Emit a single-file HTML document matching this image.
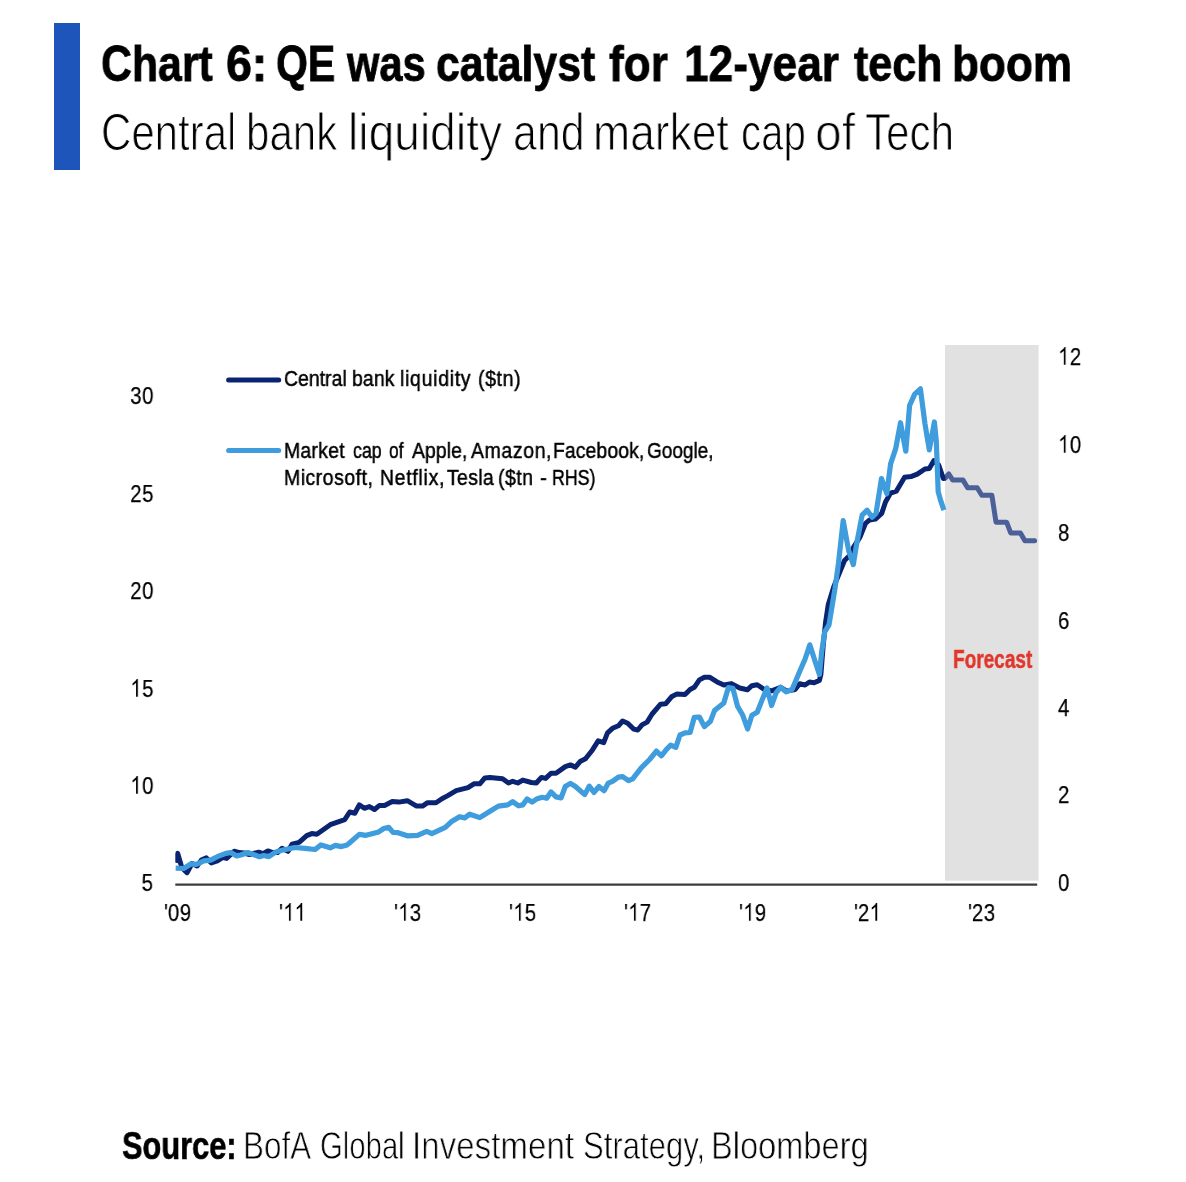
<!DOCTYPE html>
<html><head><meta charset="utf-8"><title>Chart 6</title>
<style>
html,body{margin:0;padding:0;background:#fff;}
body{width:1186px;height:1182px;position:relative;overflow:hidden;font-family:"Liberation Sans",sans-serif;color:#000;}
.t{position:absolute;white-space:nowrap;line-height:1;transform-origin:0 0;will-change:transform;}
.r{transform-origin:100% 0;}
.c{transform-origin:50% 0;}
#chart{position:absolute;left:0;top:0;}
.ax{font-size:24.8px;transform:scaleX(0.82);letter-spacing:0.75px;-webkit-text-stroke:0.25px #000;}
.one{width:0.556em;height:0.716em;margin-right:0.75px;vertical-align:baseline;fill:#000;}
</style></head><body>
<div style="position:absolute;left:54.4px;top:23px;width:25.4px;height:146.5px;background:#1d55ba"></div>
<svg id="chart" width="1186" height="1182" viewBox="0 0 1186 1182">
<defs><clipPath id="plot"><rect x="175.3" y="340" width="865" height="545"/></clipPath></defs>
<rect x="945" y="345" width="93.6" height="535.7" fill="#e1e1e1"/>
<line x1="175.3" y1="884.6" x2="1037.2" y2="884.6" stroke="#3c3c3c" stroke-width="2.4"/>
<g clip-path="url(#plot)">
<polyline fill="none" stroke="#4b5f99" stroke-width="5" stroke-linejoin="round" stroke-linecap="round" points="945.2,478.1 948.8,474.0 952.8,480.1 963.0,480.1 967.6,487.7 977.2,487.7 981.8,495.3 991.9,495.3 996.0,522.2 1006.6,522.2 1010.7,532.9 1020.4,532.9 1024.9,540.8 1034.6,540.8"/>
<polyline fill="none" stroke="#0b2472" stroke-width="5" stroke-linejoin="round" stroke-linecap="butt" points="175.5,862.6 177.7,853.4 181.9,867.7 187.0,872.7 192.0,863.5 197.1,866.0 201.3,860.1 206.4,857.9 211.4,863.0 217.3,861.0 222.4,857.6 226.6,858.4 234.2,851.2 239.3,852.6 244.3,853.0 249.4,854.6 254.0,853.3 258.7,852.2 263.0,853.6 267.9,850.9 272.0,852.4 277.5,852.6 282.0,848.3 288.0,851.4 292.0,844.1 299.1,842.4 306.7,835.6 311.8,833.6 316.8,834.3 330.3,824.7 344.7,819.6 349.7,812.0 354.8,813.2 359.3,804.9 364.3,808.3 369.4,806.6 374.5,809.5 379.5,805.4 384.6,805.4 392.2,801.6 398.9,802.1 407.3,800.7 416.6,806.1 422.5,806.1 427.6,802.7 436.0,802.7 441.9,798.7 447.8,795.6 456.2,790.6 468.0,787.6 473.9,783.8 479.8,783.8 484.9,777.9 490.0,777.4 502.6,778.8 508.5,783.0 512.7,781.3 517.8,783.0 522.8,780.1 531.3,782.5 536.3,783.0 541.4,777.4 545.6,778.4 551.0,773.3 556.0,773.3 565.3,766.6 570.4,764.9 575.4,767.1 580.5,761.2 585.5,758.7 592.3,750.2 598.2,740.9 603.7,742.6 607.5,732.9 612.5,728.3 618.4,725.8 622.6,721.0 627.7,723.2 633.6,729.1 637.8,730.0 642.0,724.9 647.1,722.1 652.1,714.0 660.6,704.2 665.6,703.8 671.5,696.8 676.6,694.1 685.0,694.6 690.1,689.5 694.3,687.3 699.4,679.9 704.4,677.2 709.5,677.2 717.1,681.9 723.8,685.0 731.4,683.6 739.7,688.0 747.3,689.8 751.9,685.7 757.2,684.7 765.5,690.3 771.6,690.8 780.7,687.3 786.8,691.1 795.1,689.5 799.7,683.8 805.0,685.0 809.5,682.0 814.1,682.7 819.4,680.4 820.9,674.4 823.2,645.5 825.6,622.1 828.3,604.5 833.7,586.9 839.8,572.0 844.5,560.5 849.3,555.8 853.3,547.7 860.1,536.9 865.5,523.3 869.6,519.9 875.4,519.1 881.7,513.4 885.5,502.0 890.6,493.1 896.3,491.2 904.6,477.2 910.9,476.6 917.3,474.1 924.9,469.0 929.3,468.4 933.8,460.7 938.8,465.2 943.3,478.5 945.2,477.9"/>
<polyline fill="none" stroke="#3f9ddd" stroke-width="5.2" stroke-linejoin="round" stroke-linecap="butt" points="175.5,868.2 183.6,868.5 191.2,863.8 196.3,864.3 203.8,860.9 210.6,860.1 217.3,856.7 225.8,853.4 230.8,852.5 236.7,855.9 240.9,855.0 247.7,852.5 252.7,854.2 259.5,856.7 263.7,855.5 268.8,856.7 276.4,851.7 283.1,850.0 294.9,847.5 305.0,848.3 315.1,849.5 321.0,844.9 330.3,847.8 335.4,845.4 341.3,846.6 347.2,844.9 350.0,842.5 359.3,834.4 366.0,835.3 378.7,831.9 383.7,828.5 388.8,827.4 393.0,832.4 398.1,832.7 407.3,835.8 417.5,835.3 426.7,831.4 431.8,833.6 445.3,827.4 451.2,821.8 459.6,816.7 464.7,817.9 469.7,814.2 479.8,817.6 490.0,811.2 498.4,806.1 507.7,804.9 512.7,801.6 518.6,805.8 522.8,804.9 527.1,799.0 532.1,802.1 537.2,798.7 542.2,797.3 546.7,798.3 551.0,791.9 556.0,796.9 561.1,797.9 565.3,786.5 570.4,783.4 575.4,786.5 584.7,794.6 589.2,786.1 594.0,792.4 599.0,786.5 604.1,790.7 608.3,783.1 612.5,781.4 618.4,777.2 622.6,776.7 628.5,780.6 632.7,778.9 641.2,767.9 649.6,759.5 656.4,751.1 661.4,755.8 666.5,749.4 670.7,745.2 675.8,747.4 680.0,735.0 685.0,732.9 690.1,732.5 694.3,717.3 699.4,717.0 704.4,726.6 710.3,721.6 714.5,710.6 723.8,703.0 728.3,687.7 732.9,688.3 737.5,706.2 742.8,715.3 747.6,729.0 751.9,715.3 757.2,712.3 761.7,700.9 767.0,688.0 771.6,705.5 776.2,692.6 780.7,687.3 786.0,691.8 792.1,689.5 800.4,669.8 805.0,659.2 809.8,644.8 814.9,660.7 819.4,674.4 821.7,651.6 824.7,631.9 829.0,624.8 835.0,588.3 838.4,563.9 843.2,520.6 848.6,550.4 853.3,564.6 856.7,543.6 862.1,515.2 867.1,510.2 872.2,517.2 876.0,513.4 878.6,496.9 881.5,478.5 886.8,493.7 890.6,463.9 895.7,448.7 900.5,422.7 905.8,451.2 909.6,405.5 914.7,394.1 920.4,388.8 924.9,423.3 929.3,449.9 934.4,422.0 936.3,441.1 938.2,491.8 940.7,500.7 943.9,510.2"/>
</g>
<line x1="228.6" y1="380.1" x2="278.7" y2="380.1" stroke="#0b2472" stroke-width="5" stroke-linecap="round"/>
<line x1="228.6" y1="450.5" x2="278.7" y2="450.5" stroke="#3f9ddd" stroke-width="5" stroke-linecap="round"/>
</svg>
<div class="t" style="left:101.24px;top:39.25px;font-size:50.5px;transform:scaleX(0.8475);font-weight:bold;-webkit-text-stroke:0.8px #000;">Chart</div>
<div class="t" style="left:226.45px;top:39.25px;font-size:50.5px;transform:scaleX(0.9201);font-weight:bold;-webkit-text-stroke:0.8px #000;">6:</div>
<div class="t" style="left:275.50px;top:39.25px;font-size:50.5px;transform:scaleX(0.8119);font-weight:bold;-webkit-text-stroke:0.8px #000;">QE</div>
<div class="t" style="left:347.05px;top:39.25px;font-size:50.5px;transform:scaleX(0.8246);font-weight:bold;-webkit-text-stroke:0.8px #000;">was</div>
<div class="t" style="left:435.69px;top:39.25px;font-size:50.5px;transform:scaleX(0.8465);font-weight:bold;-webkit-text-stroke:0.8px #000;">catalyst</div>
<div class="t" style="left:609.25px;top:39.25px;font-size:50.5px;transform:scaleX(0.8745);font-weight:bold;-webkit-text-stroke:0.8px #000;">for</div>
<div class="t" style="left:683.72px;top:39.25px;font-size:50.5px;transform:scaleX(0.8762);font-weight:bold;-webkit-text-stroke:0.8px #000;">12-year</div>
<div class="t" style="left:854.04px;top:39.25px;font-size:50.5px;transform:scaleX(0.8518);font-weight:bold;-webkit-text-stroke:0.8px #000;">tech</div>
<div class="t" style="left:951.63px;top:39.25px;font-size:50.5px;transform:scaleX(0.8735);font-weight:bold;-webkit-text-stroke:0.8px #000;">boom</div>
<div class="t" style="left:100.92px;top:107.11px;font-size:51.5px;transform:scaleX(0.8152);-webkit-text-stroke:1.1px #fff;">Central</div>
<div class="t" style="left:245.90px;top:107.11px;font-size:51.5px;transform:scaleX(0.8161);-webkit-text-stroke:1.1px #fff;">bank</div>
<div class="t" style="left:347.72px;top:107.11px;font-size:51.5px;transform:scaleX(0.8970);-webkit-text-stroke:1.1px #fff;">liquidity</div>
<div class="t" style="left:512.98px;top:107.11px;font-size:51.5px;transform:scaleX(0.8331);-webkit-text-stroke:1.1px #fff;">and</div>
<div class="t" style="left:592.94px;top:107.11px;font-size:51.5px;transform:scaleX(0.8628);-webkit-text-stroke:1.1px #fff;">market</div>
<div class="t" style="left:740.71px;top:107.11px;font-size:51.5px;transform:scaleX(0.7804);-webkit-text-stroke:1.1px #fff;">cap</div>
<div class="t" style="left:815.22px;top:107.11px;font-size:51.5px;transform:scaleX(0.9324);-webkit-text-stroke:1.1px #fff;">of</div>
<div class="t" style="left:865.23px;top:107.11px;font-size:51.5px;transform:scaleX(0.8170);-webkit-text-stroke:1.1px #fff;">Tech</div>
<div class="t" style="left:122.23px;top:1126.83px;font-size:38px;transform:scaleX(0.8099);font-weight:bold;-webkit-text-stroke:0.6px #000;">Source:</div>
<div class="t" style="left:242.86px;top:1125.99px;font-size:39px;transform:scaleX(0.8063);-webkit-text-stroke:0.8px #fff;">BofA</div>
<div class="t" style="left:319.75px;top:1125.99px;font-size:39px;transform:scaleX(0.7504);-webkit-text-stroke:0.8px #fff;">Global</div>
<div class="t" style="left:411.91px;top:1125.99px;font-size:39px;transform:scaleX(0.8492);-webkit-text-stroke:0.8px #fff;">Investment</div>
<div class="t" style="left:583.08px;top:1125.99px;font-size:39px;transform:scaleX(0.7977);-webkit-text-stroke:0.8px #fff;">Strategy,</div>
<div class="t" style="left:711.26px;top:1125.99px;font-size:39px;transform:scaleX(0.8356);-webkit-text-stroke:0.8px #fff;">Bloomberg</div>
<div class="t" style="left:284.26px;top:367.00px;font-size:22.8px;transform:scaleX(0.8500);letter-spacing:0.05px;-webkit-text-stroke:0.5px #000;">Central</div>
<div class="t" style="left:352.26px;top:367.00px;font-size:22.8px;transform:scaleX(0.8500);letter-spacing:0.15px;-webkit-text-stroke:0.5px #000;">bank</div>
<div class="t" style="left:400.46px;top:367.00px;font-size:22.8px;transform:scaleX(0.8500);letter-spacing:0.87px;-webkit-text-stroke:0.5px #000;">liquidity</div>
<div class="t" style="left:477.66px;top:367.00px;font-size:22.8px;transform:scaleX(0.8500);letter-spacing:0.79px;-webkit-text-stroke:0.5px #000;">($tn)</div>
<div class="t" style="left:284.26px;top:438.80px;font-size:22.8px;transform:scaleX(0.8500);letter-spacing:0.31px;-webkit-text-stroke:0.5px #000;">Market</div>
<div class="t" style="left:353.09px;top:438.80px;font-size:22.8px;transform:scaleX(0.7792);-webkit-text-stroke:0.5px #000;">cap</div>
<div class="t" style="left:388.59px;top:438.80px;font-size:22.8px;transform:scaleX(0.7582);-webkit-text-stroke:0.5px #000;">of</div>
<div class="t" style="left:411.61px;top:438.80px;font-size:22.8px;transform:scaleX(0.8500);letter-spacing:0.09px;-webkit-text-stroke:0.5px #000;">Apple,</div>
<div class="t" style="left:471.41px;top:438.80px;font-size:22.8px;transform:scaleX(0.8500);letter-spacing:0.79px;-webkit-text-stroke:0.5px #000;">Amazon,</div>
<div class="t" style="left:553.26px;top:438.80px;font-size:22.8px;transform:scaleX(0.8500);letter-spacing:0.11px;-webkit-text-stroke:0.5px #000;">Facebook,</div>
<div class="t" style="left:647.18px;top:438.80px;font-size:22.8px;transform:scaleX(0.8332);-webkit-text-stroke:0.5px #000;">Google,</div>
<div class="t" style="left:284.26px;top:466.20px;font-size:22.8px;transform:scaleX(0.8500);letter-spacing:0.64px;-webkit-text-stroke:0.5px #000;">Microsoft,</div>
<div class="t" style="left:379.66px;top:466.20px;font-size:22.8px;transform:scaleX(0.8500);letter-spacing:0.88px;-webkit-text-stroke:0.5px #000;">Netflix,</div>
<div class="t" style="left:447.31px;top:466.20px;font-size:22.8px;transform:scaleX(0.8500);letter-spacing:0.40px;-webkit-text-stroke:0.5px #000;">Tesla</div>
<div class="t" style="left:498.46px;top:466.20px;font-size:22.8px;transform:scaleX(0.8500);letter-spacing:0.63px;-webkit-text-stroke:0.5px #000;">($tn</div>
<div class="t" style="left:540.22px;top:466.20px;font-size:22.8px;transform:scaleX(0.9077);-webkit-text-stroke:0.5px #000;">-</div>
<div class="t" style="left:552.12px;top:466.20px;font-size:22.8px;transform:scaleX(0.7779);-webkit-text-stroke:0.5px #000;">RHS)</div>
<div class="t" style="left:952.52px;top:646.98px;font-size:25.3px;transform:scaleX(0.7518);font-weight:bold;color:#e2352b;-webkit-text-stroke:0.45px #e2352b;">Forecast</div>
<div class="t r ax" style="right:1032.0px;top:384.4px">30</div>
<div class="t r ax" style="right:1032.0px;top:481.7px">25</div>
<div class="t r ax" style="right:1032.0px;top:579.1px">20</div>
<div class="t r ax" style="right:1032.0px;top:676.7px"><svg class="one" viewBox="0 -1466 1139 1466" preserveAspectRatio="none"><path d="M763 0H583V-1147Q518 -1085 412.5 -1023T223 -930V-1104Q373 -1174 485 -1274T644 -1466H763Z"/></svg>5</div>
<div class="t r ax" style="right:1032.0px;top:774.4px"><svg class="one" viewBox="0 -1466 1139 1466" preserveAspectRatio="none"><path d="M763 0H583V-1147Q518 -1085 412.5 -1023T223 -930V-1104Q373 -1174 485 -1274T644 -1466H763Z"/></svg>0</div>
<div class="t r ax" style="right:1032.0px;top:870.8px">5</div>
<div class="t ax" style="left:1057.9px;top:345.1px"><svg class="one" viewBox="0 -1466 1139 1466" preserveAspectRatio="none"><path d="M763 0H583V-1147Q518 -1085 412.5 -1023T223 -930V-1104Q373 -1174 485 -1274T644 -1466H763Z"/></svg>2</div>
<div class="t ax" style="left:1057.9px;top:433.3px"><svg class="one" viewBox="0 -1466 1139 1466" preserveAspectRatio="none"><path d="M763 0H583V-1147Q518 -1085 412.5 -1023T223 -930V-1104Q373 -1174 485 -1274T644 -1466H763Z"/></svg>0</div>
<div class="t ax" style="left:1057.9px;top:521.2px">8</div>
<div class="t ax" style="left:1057.9px;top:609.1px">6</div>
<div class="t ax" style="left:1057.9px;top:695.9px">4</div>
<div class="t ax" style="left:1057.9px;top:783.3px">2</div>
<div class="t ax" style="left:1057.9px;top:870.8px">0</div>
<div class="t ax" style="left:164.1px;top:900.8px"><span style="letter-spacing:0">&#39;</span>09</div>
<div class="t ax" style="left:279.0px;top:900.8px"><span style="letter-spacing:0">&#39;</span><svg class="one" viewBox="0 -1466 1139 1466" preserveAspectRatio="none"><path d="M763 0H583V-1147Q518 -1085 412.5 -1023T223 -930V-1104Q373 -1174 485 -1274T644 -1466H763Z"/></svg><svg class="one" viewBox="0 -1466 1139 1466" preserveAspectRatio="none"><path d="M763 0H583V-1147Q518 -1085 412.5 -1023T223 -930V-1104Q373 -1174 485 -1274T644 -1466H763Z"/></svg></div>
<div class="t ax" style="left:393.9px;top:900.8px"><span style="letter-spacing:0">&#39;</span><svg class="one" viewBox="0 -1466 1139 1466" preserveAspectRatio="none"><path d="M763 0H583V-1147Q518 -1085 412.5 -1023T223 -930V-1104Q373 -1174 485 -1274T644 -1466H763Z"/></svg>3</div>
<div class="t ax" style="left:508.8px;top:900.8px"><span style="letter-spacing:0">&#39;</span><svg class="one" viewBox="0 -1466 1139 1466" preserveAspectRatio="none"><path d="M763 0H583V-1147Q518 -1085 412.5 -1023T223 -930V-1104Q373 -1174 485 -1274T644 -1466H763Z"/></svg>5</div>
<div class="t ax" style="left:623.7px;top:900.8px"><span style="letter-spacing:0">&#39;</span><svg class="one" viewBox="0 -1466 1139 1466" preserveAspectRatio="none"><path d="M763 0H583V-1147Q518 -1085 412.5 -1023T223 -930V-1104Q373 -1174 485 -1274T644 -1466H763Z"/></svg>7</div>
<div class="t ax" style="left:738.6px;top:900.8px"><span style="letter-spacing:0">&#39;</span><svg class="one" viewBox="0 -1466 1139 1466" preserveAspectRatio="none"><path d="M763 0H583V-1147Q518 -1085 412.5 -1023T223 -930V-1104Q373 -1174 485 -1274T644 -1466H763Z"/></svg>9</div>
<div class="t ax" style="left:853.5px;top:900.8px"><span style="letter-spacing:0">&#39;</span>2<svg class="one" viewBox="0 -1466 1139 1466" preserveAspectRatio="none"><path d="M763 0H583V-1147Q518 -1085 412.5 -1023T223 -930V-1104Q373 -1174 485 -1274T644 -1466H763Z"/></svg></div>
<div class="t ax" style="left:968.4px;top:900.8px"><span style="letter-spacing:0">&#39;</span>23</div>
</body></html>
